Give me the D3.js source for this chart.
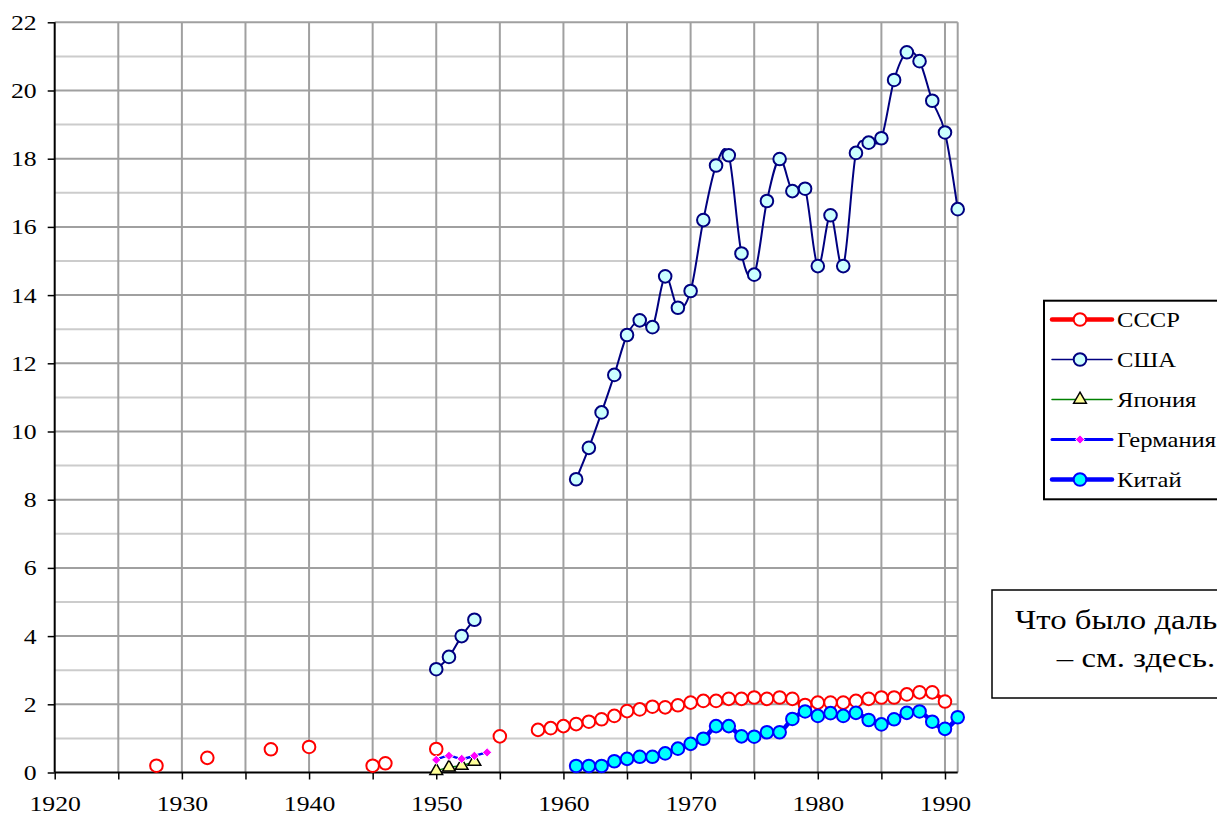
<!DOCTYPE html>
<html>
<head>
<meta charset="utf-8">
<script src="https://cdn.jsdelivr.net/npm/d3@7"></script>
<style>
  body { margin: 0; background: #fff; }
  svg { display: block; font-family: "Liberation Serif", "Times New Roman", Times, serif; }
</style>
</head>
<body>
<svg id="chart" width="1217" height="816"></svg>
<script>
// data
var ussrYears = [1928, 1932, 1937, 1940, 1945, 1946, 1950, 1955,
  1958, 1959, 1960, 1961, 1962, 1963, 1964, 1965, 1966, 1967, 1968, 1969,
  1970, 1971, 1972, 1973, 1974, 1975, 1976, 1977, 1978, 1979, 1980, 1981,
  1982, 1983, 1984, 1985, 1986, 1987, 1988, 1989, 1990];
var ussrValues = [0.2, 0.43, 0.68, 0.75, 0.2, 0.27, 0.69, 1.06,
  1.25, 1.3, 1.36, 1.42, 1.49, 1.56, 1.66, 1.8, 1.85, 1.93, 1.91, 1.97,
  2.05, 2.1, 2.1, 2.16, 2.16, 2.2, 2.16, 2.2, 2.16, 1.98, 2.05, 2.05,
  2.05, 2.1, 2.16, 2.2, 2.2, 2.29, 2.35, 2.35, 2.08];

var usaYears = [1950, 1951, 1952, 1953,
  1961, 1962, 1963, 1964, 1965, 1966, 1967, 1968, 1969, 1970, 1971, 1972,
  1973, 1974, 1975, 1976, 1977, 1978, 1979, 1980, 1981, 1982, 1983, 1984,
  1985, 1986, 1987, 1988, 1989, 1990, 1991];
var usaValues = [3.03, 3.39, 4.0, 4.48,
  8.6, 9.52, 10.56, 11.66, 12.83, 13.26, 13.06, 14.55, 13.63, 14.12, 16.2, 17.8,
  18.1, 15.22, 14.6, 16.76, 17.99, 17.05, 17.12, 14.85, 16.34, 14.85, 18.17, 18.47,
  18.6, 20.31, 21.12, 20.86, 19.7, 18.77, 16.52];

var japanYears = [1950, 1951, 1952, 1953];
var japanValues = [0.05, 0.15, 0.2, 0.32];

var germanyYears = [1950, 1951, 1952, 1953, 1954];
var germanyValues = [0.37, 0.49, 0.4, 0.49, 0.59];

var chinaYears = [1961, 1962, 1963, 1964, 1965, 1966, 1967, 1968, 1969, 1970,
  1971, 1972, 1973, 1974, 1975, 1976, 1977, 1978, 1979, 1980, 1981, 1982,
  1983, 1984, 1985, 1986, 1987, 1988, 1989, 1990, 1991];
var chinaValues = [0.19, 0.19, 0.19, 0.33, 0.4, 0.46, 0.46, 0.56, 0.7, 0.84,
  0.99, 1.36, 1.36, 1.06, 1.05, 1.18, 1.18, 1.57, 1.79, 1.66, 1.74, 1.66,
  1.75, 1.54, 1.41, 1.56, 1.75, 1.79, 1.49, 1.28, 1.62];

var seriesNames = ["СССР", "США", "Япония", "Германия", "Китай"];
var xTicks = [1920, 1925, 1930, 1935, 1940, 1945, 1950, 1955, 1960, 1965, 1970, 1975, 1980, 1985, 1990];
var yTicks = [0, 2, 4, 6, 8, 10, 12, 14, 16, 18, 20, 22];
var noteLines = ["Что было дальше", "– см. здесь."];

(function() {
  var FONT = "'Liberation Serif', 'Times New Roman', Times, serif";
  var WIDEN = 1.17; // the picture's text is a bit stretched sideways
  var svg = d3.select("#chart");
  var left = 54.7, right = 957.7, plotTop = 22.3, bottom = 772.5;

  var x = d3.scaleLinear().domain([1920, 1991]).range([left, right]);
  var y = d3.scaleLinear().domain([0, 22]).range([bottom, plotTop]);

  function widen(sel) {
    sel.each(function() {
      var w = this.getComputedTextLength();
      if (w > 0) d3.select(this).attr("textLength", w * WIDEN).attr("lengthAdjust", "spacingAndGlyphs");
    });
  }

  svg.append("rect").attr("width", 1217).attr("height", 816).attr("fill", "#fff");

  // grid
  var grid = svg.append("g");
  grid.selectAll("line.h")
    .data(d3.range(1, 23))
    .enter().append("line")
      .attr("x1", left).attr("x2", right)
      .attr("y1", function(d) { return y(d); })
      .attr("y2", function(d) { return y(d); })
      .attr("stroke", function(d) { return d % 2 ? "#cccccc" : "#a0a0a0"; })
      .attr("stroke-width", 2);
  grid.selectAll("line.v")
    .data(xTicks.slice(1).concat([1991]))
    .enter().append("line")
      .attr("y1", plotTop).attr("y2", bottom)
      .attr("x1", function(d) { return x(d); })
      .attr("x2", function(d) { return x(d); })
      .attr("stroke", "#a0a0a0")
      .attr("stroke-width", 2);

  // axes
  var yAxis = svg.append("g")
    .attr("transform", "translate(" + left + ",0)")
    .call(d3.axisLeft(y).tickValues(yTicks).tickSize(7).tickPadding(11));
  var xAxis = svg.append("g")
    .attr("transform", "translate(0," + bottom + ")")
    .call(d3.axisBottom(x).tickValues(xTicks).tickSize(7).tickPadding(16)
      .tickFormat(function(d) { return d % 10 ? "" : d; }));
  [yAxis, xAxis].forEach(function(a) {
    a.attr("font-family", FONT).attr("font-size", 22);
    a.select(".domain").attr("stroke", "#000").attr("stroke-width", 2);
    a.selectAll(".tick line").attr("stroke", "#000").attr("stroke-width", 1.5);
    a.selectAll(".tick text").attr("fill", "#000").call(widen);
  });
  xAxis.select(".domain").attr("d", "M" + left + ",0H" + right);
  yAxis.select(".domain").attr("d", "M0," + plotTop + "V" + bottom);

  // helpers
  function zipPts(years, values) {
    return years.map(function(d, i) { return [d, values[i]]; });
  }
  // split into runs of consecutive years (gaps are not joined)
  function runs(pts) {
    var out = [], cur = [];
    pts.forEach(function(p, i) {
      if (i > 0 && p[0] - pts[i - 1][0] > 1) { out.push(cur); cur = []; }
      cur.push(p);
    });
    out.push(cur);
    return out;
  }

  var line = d3.line()
    .x(function(d) { return x(d[0]); })
    .y(function(d) { return y(d[1]); })
    .curve(d3.curveCatmullRom.alpha(0));

  var tri = d3.symbol().type(d3.symbolTriangle).size(70);
  var dia = d3.symbol().type(d3.symbolDiamond2).size(55);

  var styles = [
    { pts: zipPts(ussrYears, ussrValues), line: "#ff0000", lw: 4, leg: 4.5, mk: "circle", fill: "#ffffff", stroke: "#ff0000", sw: 2 },
    { pts: zipPts(usaYears, usaValues), line: "#000080", lw: 2, leg: 1.5, mk: "circle", fill: "#ccffff", stroke: "#000080", sw: 2 },
    { pts: zipPts(japanYears, japanValues), line: "#008000", lw: 1.5, leg: 1.5, mk: "tri", fill: "#ffff99", stroke: "#000000", sw: 1.5 },
    { pts: zipPts(germanyYears, germanyValues), line: "#0000ff", lw: 2.5, leg: 3, mk: "dia", fill: "#ff00ff", stroke: "#ffffff", sw: 1 },
    { pts: zipPts(chinaYears, chinaValues), line: "#0000ff", lw: 4.5, leg: 4.5, mk: "circle", fill: "#00ffff", stroke: "#0000ff", sw: 2 }
  ];

  function drawMarker(g, s, cx, cy) {
    if (s.mk === "circle") {
      g.append("circle").attr("cx", cx).attr("cy", cy).attr("r", 6.3)
        .attr("fill", s.fill).attr("stroke", s.stroke).attr("stroke-width", s.sw);
    } else {
      g.append("path").attr("d", s.mk === "tri" ? tri() : dia())
        .attr("transform", "translate(" + cx + "," + cy + ")")
        .attr("fill", s.fill).attr("stroke", s.stroke).attr("stroke-width", s.sw);
    }
  }

  styles.forEach(function(s) {
    var g = svg.append("g");
    runs(s.pts).forEach(function(r) {
      if (r.length > 1) {
        g.append("path").attr("d", line(r)).attr("fill", "none")
          .attr("stroke", s.line).attr("stroke-width", s.lw)
          .attr("stroke-linejoin", "round");
      }
    });
    s.pts.forEach(function(p) { drawMarker(g, s, x(p[0]), y(p[1])); });
  });

  // legend
  var lg = svg.append("g").attr("font-family", FONT);
  lg.append("rect").attr("x", 1044).attr("y", 300.7).attr("width", 200).attr("height", 198.6)
    .attr("fill", "#fff").attr("stroke", "#000").attr("stroke-width", 2);
  var legendY = d3.scalePoint().domain(seriesNames).range([319.5, 479.5]);
  seriesNames.forEach(function(name, i) {
    var s = styles[i], cy = legendY(name);
    lg.append("line").attr("x1", 1052).attr("x2", 1112).attr("y1", cy).attr("y2", cy)
      .attr("stroke", s.line).attr("stroke-width", s.leg)
      .attr("stroke-linecap", "round");
    drawMarker(lg, s, 1080, cy);
    lg.append("text").attr("x", 1117).attr("y", cy).attr("dy", "0.35em")
      .attr("font-size", 21).text(name).call(widen);
  });

  // note box
  var nb = svg.append("g").attr("font-family", FONT);
  nb.append("rect").attr("x", 992).attr("y", 590).attr("width", 300).attr("height", 108)
    .attr("fill", "#fff").attr("stroke", "#000").attr("stroke-width", 1.5);
  noteLines.forEach(function(t, i) {
    nb.append("text").attr("x", 1136).attr("y", 629 + i * 37.5)
      .attr("text-anchor", "middle").attr("font-size", 28).text(t).call(widen);
  });
})();
</script>
</body>
</html>
